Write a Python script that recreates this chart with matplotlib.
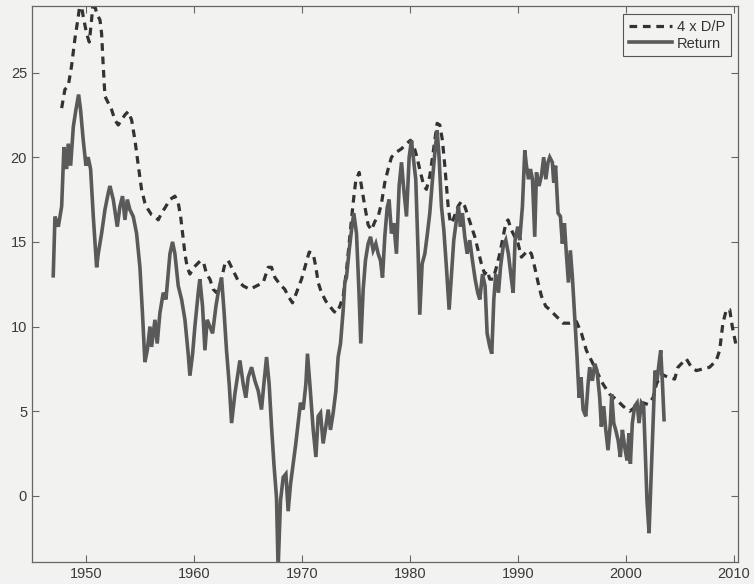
import matplotlib
matplotlib.use("Agg")
import matplotlib.pyplot as plt

# 4 x dividend yield (dashed)
dp_years = [1947.75, 1948.05, 1948.36, 1948.67, 1948.98, 1949.29, 1949.5, 1949.75, 1950.06, 1950.31,
            1950.52, 1950.68, 1950.99, 1951.3, 1951.45, 1951.6, 1951.76, 1952.07, 1952.38, 1952.68,
            1952.99, 1953.3, 1953.61, 1953.92, 1954.23, 1954.54, 1954.85, 1955.15, 1955.46, 1955.77,
            1956.08, 1956.39, 1956.7, 1957.0, 1957.31, 1957.78, 1958.24, 1958.55, 1958.77, 1958.95,
            1959.17, 1959.38, 1959.63, 1960.0, 1960.31, 1960.62, 1960.93, 1961.17, 1961.48, 1961.79,
            1962.1, 1962.4, 1962.87, 1963.18, 1963.64, 1964.1, 1964.57, 1965.18, 1965.8, 1966.42,
            1966.88, 1967.19, 1967.5, 1967.96, 1968.42, 1968.73, 1969.13, 1969.5, 1969.97, 1970.28,
            1970.68, 1971.05, 1971.3, 1971.51, 1971.82, 1972.22, 1972.59, 1972.96, 1973.21, 1973.52,
            1973.83, 1974.13, 1974.44, 1974.75, 1974.99, 1975.31, 1975.52, 1975.83, 1976.14, 1976.45,
            1976.76, 1977.07, 1977.38, 1977.68, 1977.99, 1978.3, 1978.76, 1979.23, 1979.69, 1980.06,
            1980.3, 1980.62, 1980.99, 1981.3, 1981.54, 1981.85, 1982.1, 1982.31, 1982.53, 1982.78,
            1983.02, 1983.24, 1983.39, 1983.55, 1983.76, 1984.01, 1984.47, 1984.78, 1985.09, 1985.4,
            1985.71, 1986.02, 1986.33, 1986.63, 1986.94, 1987.16, 1987.41, 1987.71, 1988.02, 1988.33,
            1988.64, 1988.89, 1989.1, 1989.41, 1989.72, 1990.03, 1990.34, 1990.65, 1990.95, 1991.26,
            1991.57, 1991.88, 1992.19, 1992.59, 1992.96, 1993.42, 1993.9, 1994.2, 1994.81, 1995.43,
            1995.9, 1996.35, 1996.82, 1997.28, 1997.9, 1998.52, 1999.13, 1999.75, 2000.37, 2000.98,
            2001.6, 2002.06, 2002.53, 2002.84, 2003.3, 2003.92, 2004.53, 2004.84, 2005.61, 2006.08,
            2006.54, 2007.16, 2007.77, 2008.39, 2008.7, 2009.0, 2009.32, 2009.63, 2009.87, 2010.25]
dp_values = [22.9, 24.0, 24.2, 25.4, 27.0, 28.3, 29.3, 28.3, 27.3, 26.8,
             28.1, 29.3, 28.5, 28.1, 27.3, 25.4, 23.6, 23.2, 22.8, 22.2,
             21.9, 22.2, 22.5, 22.7, 22.2, 21.0, 19.5, 18.1, 17.3, 16.9,
             16.6, 16.5, 16.3, 16.7, 17.0, 17.5, 17.7, 17.3, 16.5, 15.5,
             14.3, 13.5, 13.1, 13.5, 13.7, 13.9, 13.7, 13.1, 12.8, 12.2,
             12.0, 12.4, 13.7, 13.9, 13.3, 12.7, 12.4, 12.2, 12.4, 12.6,
             13.5, 13.5, 12.9, 12.5, 12.2, 11.8, 11.4, 12.0, 12.8, 13.5,
             14.4, 14.3, 13.5, 12.6, 12.0, 11.5, 11.2, 10.9, 10.8, 11.2,
             11.8, 13.3, 15.3, 17.3, 18.6, 19.1, 18.3, 17.1, 16.0, 15.7,
             16.2, 16.5, 17.3, 18.5, 19.3, 20.0, 20.3, 20.5, 20.8, 21.0,
             20.8, 20.1, 19.1, 18.3, 18.1, 18.9, 20.0, 21.0, 22.0, 21.9,
             21.0, 19.5, 18.3, 17.1, 16.1, 16.3, 17.1, 17.4, 17.1, 16.5,
             15.9, 15.3, 14.5, 13.7, 13.1, 13.3, 12.8, 12.8, 13.5, 14.3,
             15.3, 16.1, 16.3, 15.7, 15.3, 14.9, 14.1, 14.3, 14.5, 14.3,
             13.5, 12.6, 11.8, 11.2, 11.0, 10.7, 10.4, 10.2, 10.2, 10.3,
             9.6, 8.6, 8.0, 7.4, 6.6, 6.0, 5.7, 5.3, 5.0, 5.3,
             5.5, 5.4, 5.8, 6.6, 7.2, 7.0, 6.9, 7.6, 8.1, 7.6,
             7.4, 7.5, 7.6, 8.0, 8.6, 10.2, 11.0, 11.0, 10.0, 8.8]

# following seven-year return (solid)
ret_years = [1946.97, 1947.13, 1947.44, 1947.75, 1947.96, 1948.21, 1948.36, 1948.58, 1948.83, 1949.07,
             1949.32, 1949.5, 1949.75, 1950.0, 1950.2, 1950.43, 1950.68, 1950.99, 1951.14, 1951.45,
             1951.76, 1952.07, 1952.22, 1952.53, 1952.9, 1953.15, 1953.39, 1953.61, 1953.83, 1954.07,
             1954.38, 1954.69, 1955.0, 1955.25, 1955.46, 1955.68, 1955.93, 1956.08, 1956.39, 1956.6,
             1956.85, 1957.16, 1957.41, 1957.78, 1958.02, 1958.24, 1958.55, 1958.86, 1959.17, 1959.47,
             1959.63, 1959.88, 1960.09, 1960.4, 1960.55, 1960.8, 1961.02, 1961.23, 1961.48, 1961.73,
             1962.04, 1962.25, 1962.56, 1962.78, 1963.02, 1963.27, 1963.49, 1963.79, 1964.26, 1964.57,
             1964.81, 1965.03, 1965.34, 1965.65, 1965.96, 1966.26, 1966.48, 1966.73, 1966.97, 1967.19,
             1967.41, 1967.65, 1967.8, 1968.02, 1968.27, 1968.52, 1968.73, 1968.95, 1969.2, 1969.44,
             1969.66, 1969.87, 1970.12, 1970.37, 1970.52, 1970.74, 1971.05, 1971.3, 1971.51, 1971.73,
             1971.97, 1972.22, 1972.44, 1972.65, 1972.9, 1973.15, 1973.36, 1973.58, 1973.83, 1973.98,
             1974.13, 1974.38, 1974.6, 1974.81, 1975.06, 1975.28, 1975.46, 1975.68, 1975.89, 1976.14,
             1976.36, 1976.6, 1976.85, 1977.07, 1977.28, 1977.47, 1977.68, 1977.9, 1978.08, 1978.3,
             1978.52, 1978.76, 1979.01, 1979.23, 1979.44, 1979.69, 1979.94, 1980.15, 1980.37, 1980.55,
             1980.77, 1980.92, 1981.14, 1981.39, 1981.63, 1981.85, 1982.1, 1982.31, 1982.53, 1982.71,
             1982.93, 1983.15, 1983.39, 1983.64, 1983.86, 1984.07, 1984.32, 1984.5, 1984.69, 1984.87,
             1985.09, 1985.31, 1985.55, 1985.8, 1986.05, 1986.29, 1986.48, 1986.73, 1986.97, 1987.16,
             1987.41, 1987.59, 1987.78, 1987.96, 1988.21, 1988.4, 1988.64, 1988.89, 1989.13, 1989.35,
             1989.57, 1989.75, 1990.0, 1990.18, 1990.43, 1990.65, 1990.8, 1991.0, 1991.17, 1991.36,
             1991.57, 1991.73, 1991.97, 1992.19, 1992.4, 1992.6, 1992.8, 1992.96, 1993.2, 1993.33,
             1993.5, 1993.73, 1993.95, 1994.13, 1994.32, 1994.5, 1994.69, 1994.87, 1995.06, 1995.27,
             1995.49, 1995.68, 1995.86, 1996.05, 1996.3, 1996.51, 1996.66, 1996.91, 1997.13, 1997.34,
             1997.59, 1997.74, 1997.96, 1998.15, 1998.36, 1998.58, 1998.7, 1998.89, 1999.07, 1999.29,
             1999.5, 1999.69, 1999.9, 2000.12, 2000.3, 2000.43, 2000.61, 2000.83, 2001.05, 2001.23,
             2001.45, 2001.66, 2001.85, 2001.97, 2002.16, 2002.34, 2002.53, 2002.71, 2002.9, 2003.08,
             2003.24, 2003.39, 2003.55]
ret_values = [13.0, 16.5, 15.9, 17.1, 20.6, 19.3, 20.8, 19.5, 21.8, 22.8,
              23.7, 22.8, 21.0, 19.5, 20.0, 19.3, 16.5, 13.5, 14.3, 15.5,
              16.9, 17.9, 18.3, 17.5, 15.9, 17.1, 17.7, 16.3, 17.5, 16.9,
              16.5, 15.5, 13.5, 10.6, 7.9, 8.6, 10.0, 8.8, 10.4, 9.0,
              10.8, 12.0, 11.6, 14.3, 15.0, 14.3, 12.4, 11.6, 10.4, 8.4,
              7.1, 8.4, 10.0, 12.0, 12.8, 11.2, 8.6, 10.4, 10.0, 9.6,
              11.2, 12.0, 12.9, 11.0, 8.6, 6.6, 4.3, 6.0, 8.0, 6.6,
              5.8, 7.0, 7.6, 6.8, 6.2, 5.1, 6.6, 8.2, 6.6, 4.1,
              1.9, -0.1, -4.3, -0.3, 1.1, 1.3, -0.9, 0.7, 1.9, 3.1,
              4.3, 5.5, 5.1, 6.6, 8.4, 6.6, 3.9, 2.3, 4.7, 4.9,
              3.1, 4.1, 5.1, 3.9, 4.9, 6.2, 8.2, 9.0, 11.0, 12.6,
              12.9, 14.5, 15.7, 16.7, 15.5, 12.2, 9.0, 12.2, 13.9, 14.9,
              15.3, 14.5, 14.9, 14.3, 13.9, 12.9, 15.3, 17.0, 17.5, 15.5,
              16.1, 14.3, 18.3, 19.7, 18.1, 16.5, 20.0, 21.0, 19.7, 18.7,
              14.3, 10.7, 13.7, 14.3, 15.5, 16.7, 18.7, 20.2, 21.6, 20.0,
              17.1, 15.7, 13.5, 11.0, 13.1, 15.1, 16.3, 17.1, 15.9, 16.7,
              15.3, 14.3, 15.1, 13.9, 12.8, 12.0, 11.6, 13.1, 12.4, 9.6,
              8.8, 8.4, 11.6, 13.1, 12.0, 13.5, 14.7, 15.1, 14.3, 13.1,
              12.0, 15.1, 15.9, 15.1, 17.1, 20.4, 19.5, 18.7, 19.3, 18.7,
              15.3, 19.1, 18.3, 18.9, 20.0, 18.7, 19.7, 20.0, 19.7, 18.5,
              19.5, 16.7, 16.5, 14.9, 16.1, 14.3, 12.6, 14.5, 12.9, 10.6,
              8.2, 5.8, 7.0, 5.1, 4.7, 6.6, 7.6, 6.8, 7.8, 7.4,
              5.8, 4.1, 5.3, 3.9, 2.7, 4.3, 6.0, 4.3, 3.9, 3.3,
              2.3, 3.9, 2.9, 2.1, 3.7, 1.9, 4.3, 5.3, 5.5, 4.3,
              5.5, 5.3, 1.9, -0.3, -2.2, 0.9, 4.3, 7.4, 6.8, 7.8,
              8.6, 6.8, 4.5]

x_ticks = [1950, 1960, 1970, 1980, 1990, 2000, 2010]
y_ticks = [0, 5, 10, 15, 20, 25]

bg = "#f2f2f0"
plt.rcParams["font.family"] = ["Liberation Sans", "DejaVu Sans"]

fig = plt.figure(figsize=(7.54, 5.84), dpi=100, facecolor=bg)
ax = fig.add_axes([0.0424, 0.0377, 0.9364, 0.9512], facecolor=bg)

ax.plot(dp_years, dp_values, color="#333333", linewidth=2.3,
        linestyle=(0, (2.4, 1.8)), label="4 x D/P")
ax.plot(ret_years, ret_values, color="#5a5a5a", linewidth=2.6,
        solid_joinstyle="miter", label="Return")

ax.set_xlim(1945.0, 2010.4)
ax.set_ylim(-3.9, 28.9)
ax.set_xticks(x_ticks)
ax.set_yticks(y_ticks)

for s in ax.spines.values():
    s.set_color("#666666")
    s.set_linewidth(0.9)
ax.tick_params(direction="in", length=5, width=0.8, color="#666666",
               top=True, right=True, labelsize=10.5, labelcolor="#3a3a3a")

leg = ax.legend(loc="upper right", fontsize=10.5, handlelength=3.0,
                fancybox=False, framealpha=1.0, borderaxespad=0.5,
                handletextpad=0.3, labelspacing=0.2)
leg.get_frame().set_facecolor(bg)
leg.get_frame().set_edgecolor("#555555")
leg.get_frame().set_linewidth(0.8)
for t in leg.get_texts():
    t.set_color("#333333")

fig.savefig("out.png", dpi=100, facecolor=bg)
